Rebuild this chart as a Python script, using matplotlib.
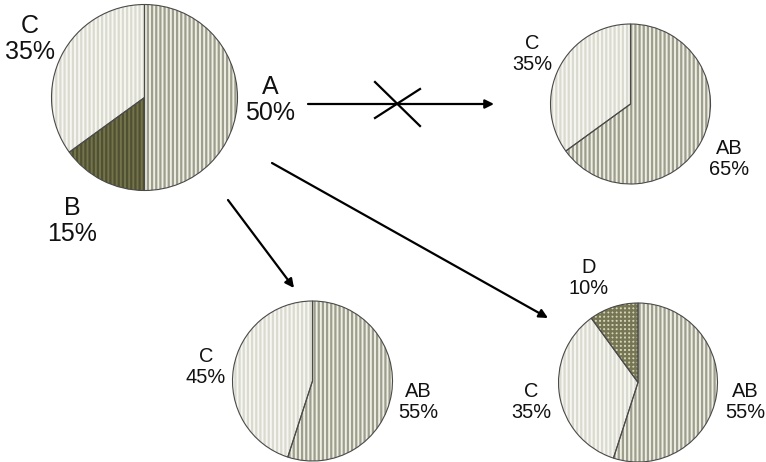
import matplotlib
matplotlib.use("Agg")
import matplotlib.pyplot as plt

plt.rcParams['font.family'] = ['Liberation Sans', 'DejaVu Sans']
plt.rcParams['hatch.linewidth'] = 1.6

# ---- data ----
pie1_labels = ["A", "B", "C"]
pie1_values = [50, 15, 35]
pie2_labels = ["AB", "C"]
pie2_values = [65, 35]
pie3_labels = ["AB", "C"]
pie3_values = [55, 45]
pie4_labels = ["AB", "C", "D"]
pie4_values = [55, 35, 10]

# ---- styles ----
H = 462
style = {
    "A":  dict(face="#eeeee2", hatch="||||", hc="#9e9e8e"),
    "AB": dict(face="#eeeee2", hatch="||||", hc="#9e9e8e"),
    "B":  dict(face="#74744c", hatch="||||", hc="#505032"),
    "C":  dict(face="#f7f7f1", hatch="||||", hc="#dadad0"),
    "D":  dict(face="#d4d4b8", hatch="++++", hc="#767654"),
}

fig = plt.figure(figsize=(7.66, 4.62), dpi=100)
ax = fig.add_axes([0, 0, 1, 1])


def draw_pie(labels, values, cx, cy, r):
    center = (cx, H - cy)
    wedges, _ = ax.pie(values, startangle=90, counterclock=False,
                       center=center, radius=r,
                       wedgeprops=dict(linewidth=0))
    for w, lab in zip(wedges, labels):
        s = style[lab]
        w.set_facecolor(s["face"])
        w.set_hatch(s["hatch"])
        w.set_edgecolor(s["hc"])
        w.set_clip_on(False)
    outl, _ = ax.pie(values, startangle=90, counterclock=False,
                     center=center, radius=r,
                     wedgeprops=dict(facecolor="none", edgecolor="#4a4a4a",
                                     linewidth=0.8))
    for w in outl:
        w.set_clip_on(False)


draw_pie(pie1_labels, pie1_values, 144.5, 97.5, 93)
draw_pie(pie2_labels, pie2_values, 630.5, 104, 80)
draw_pie(pie3_labels, pie3_values, 312.5, 381, 80)
draw_pie(pie4_labels, pie4_values, 638, 382.5, 79.5)


def label(name, value, x, y, size):
    ax.text(x, H - y, f"{name}\n{value}%", ha="center", va="center",
            fontsize=size, linespacing=1.15, color="#111111")


# pie 1 labels
label(pie1_labels[0], pie1_values[0], 270, 100, 18)
label(pie1_labels[1], pie1_values[1], 72, 221, 18)
label(pie1_labels[2], pie1_values[2], 30, 39, 18)
# pie 2
label(pie2_labels[0], pie2_values[0], 729, 159, 14.4)
label(pie2_labels[1], pie2_values[1], 532, 54, 14.4)
# pie 3
label(pie3_labels[0], pie3_values[0], 418, 402, 14.4)
label(pie3_labels[1], pie3_values[1], 206, 367, 14.4)
# pie 4
label(pie4_labels[0], pie4_values[0], 745, 402, 14.4)
label(pie4_labels[1], pie4_values[1], 531, 402, 14.4)
label(pie4_labels[2], pie4_values[2], 589, 278, 14.4)


def arrow(x0, y0, x1, y1):
    ax.annotate("", xy=(x1, H - y1), xytext=(x0, H - y0),
                arrowprops=dict(arrowstyle="-|>", color="black", lw=1.6,
                                mutation_scale=13, shrinkA=0, shrinkB=0))


arrow(308, 104, 494, 104)
arrow(228, 200, 294, 288)
arrow(272, 163, 548, 318)

# cross over the first arrow
ax.plot([375, 420], [H - 82, H - 126], color="black", lw=1.6)
ax.plot([375, 420], [H - 118, H - 89], color="black", lw=1.6)

ax.set_xlim(0, 766)
ax.set_ylim(0, H)
ax.set_aspect("auto")
ax.axis("off")

fig.savefig("out.png", dpi=100, facecolor="white")
